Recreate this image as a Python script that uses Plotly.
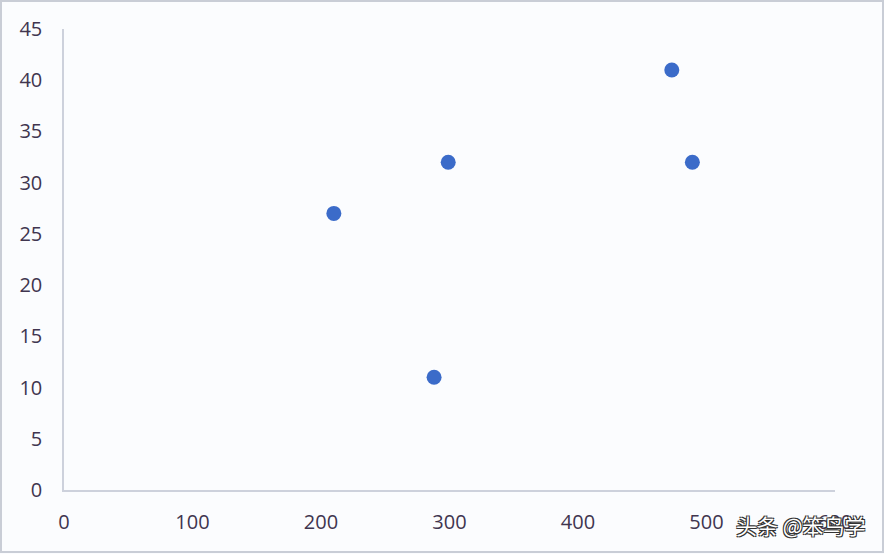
import plotly.graph_objects as go

x_vals = [210, 288, 299, 473, 489]
y_vals = [27, 11, 32, 41, 32]
x_ticks = [0, 100, 200, 300, 400, 500, 600]
y_ticks = [0, 5, 10, 15, 20, 25, 30, 35, 40, 45]

W, H = 884, 554
ml, mr, mt, mb = 64, 49, 29, 64
pw, ph = W - ml - mr, H - mt - mb

def px_x(p):
    return (p - ml) / pw

def px_y(p):
    return (H - mb - p) / ph

fig = go.Figure()
fig.add_trace(go.Scatter(
    x=x_vals, y=y_vals, mode="markers",
    marker=dict(size=15, color="#3b6bc9", line=dict(width=0)),
    hoverinfo="x+y", showlegend=False,
))

font = dict(family="Open Sans, Liberation Sans, sans-serif", size=20, color="#40354f")

fig.update_layout(
    width=W, height=H,
    margin=dict(l=ml, r=mr, t=mt, b=mb),
    paper_bgcolor="#fbfcfe",
    plot_bgcolor="#fbfcfe",
    font=font,
    xaxis=dict(range=[0, 600], tickvals=x_ticks, showgrid=False, zeroline=False,
               showline=True, linecolor="#cdd1dc", linewidth=1.5,
               ticks="", ticklabelstandoff=13, fixedrange=True),
    yaxis=dict(range=[0, 45], tickvals=y_ticks, showgrid=False, zeroline=False,
               showline=True, linecolor="#cdd1dc", linewidth=1.5,
               ticks="", ticklabelstandoff=16, fixedrange=True),
    shapes=[dict(type="rect", xref="paper", yref="paper",
                 x0=px_x(1), x1=px_x(W - 1), y0=px_y(552), y1=px_y(1),
                 line=dict(color="#c9cdd6", width=2), fillcolor="rgba(0,0,0,0)",
                 layer="below")],
    annotations=[dict(text="头条 @笨鸟学", xref="paper", yref="paper",
                      x=px_x(868), y=px_y(525), xanchor="right", yanchor="middle",
                      showarrow=False,
                      font=dict(family="Noto Sans CJK SC", size=21, color="#ffffff",
                                shadow="-1px -1px 0 #333, 1px -1px 0 #333, -1px 1px 0 #333, 1px 1px 0 #333"))],
)

fig.write_html("out.html", config={"displayModeBar": False},
               post_script="document.body.style.margin='0';document.body.style.overflow='hidden';")
